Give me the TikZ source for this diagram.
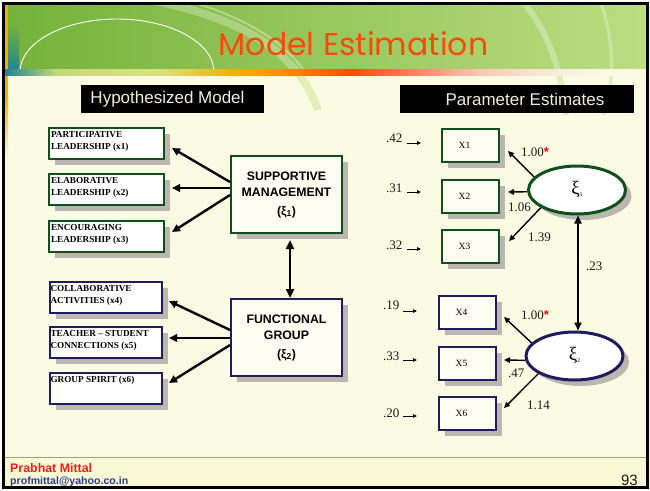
\documentclass[tikz,border=0pt]{standalone}
\usepackage{fontspec}
\setmainfont{Liberation Serif}
\setsansfont{Liberation Sans}
\newfontfamily\titlefont{Poppins}
\usetikzlibrary{arrows.meta,shapes.geometric,shadows}

\definecolor{cream}{HTML}{FBFBE3}
\definecolor{footcream}{HTML}{F9F9D6}
\definecolor{hdrdark}{HTML}{74B23A}
\definecolor{hdrlight}{HTML}{BCDD82}
\definecolor{tealc}{HTML}{1E8496}
\definecolor{goldc}{HTML}{F0B000}
\definecolor{orangec}{HTML}{F88A00}
\definecolor{redorange}{HTML}{FF4A06}
\definecolor{salmonc}{HTML}{FF8468}
\definecolor{pinkc}{HTML}{F9C8B4}
\definecolor{palec}{HTML}{F8EEDC}
\definecolor{yg}{HTML}{C4D878}
\definecolor{ygpale}{HTML}{DCE27A}
\definecolor{titlec}{HTML}{FF4A0A}
\definecolor{capfg}{HTML}{EFEFD6}
\definecolor{grnbd}{HTML}{0E4F1C}
\definecolor{navybd}{HTML}{1C1C5E}
\definecolor{shade}{HTML}{BDB6B0}
\definecolor{latfill}{HTML}{FDFDF2}
\definecolor{footline}{HTML}{9CA282}
\definecolor{mailblue}{HTML}{2B3A96}
\definecolor{namered}{HTML}{FF1A1A}
\definecolor{arcgreen}{HTML}{CFE69A}
\definecolor{ink}{HTML}{1A1A1A}

% colour rule under the title band
\pgfdeclarehorizontalshading{hdrrule}{100bp}{
  color(0bp)=(tealc); color(25bp)=(tealc); color(29bp)=(yg);
  color(37bp)=(ygpale); color(43bp)=(goldc); color(47bp)=(orangec);
  color(52bp)=(redorange); color(57bp)=(salmonc); color(62bp)=(pinkc);
  color(68bp)=(palec); color(72bp)=(cream); color(100bp)=(cream)}

% two-line caption of an indicator box, set from its top left corner
\newcommand\indlab[2]{\parbox[c][29pt][t]{111pt}{\raggedright\rule{0pt}{8.5pt}#1\\#2}}
\newcommand\indone[1]{\parbox[c][29pt][t]{111pt}{\raggedright\rule{0pt}{8.5pt}#1}}
\newcommand\xisym[1]{{\fontsize{19}{19}\selectfont ξ}\raisebox{-2pt}{\fontsize{6}{6}\selectfont #1}}
\newcommand\fixed{{\color{red}\sffamily\bfseries\fontsize{13}{13}\selectfont *}}

\begin{document}
\begin{tikzpicture}[x=1pt,y=-1pt,
  boxshadow/.style={drop shadow={shadow xshift=6pt,shadow yshift=-6pt,fill=shade,opacity=1}},
  indbox/.style={draw=#1,line width=2pt,fill=white,boxshadow,inner sep=0pt,
     minimum width=115pt,minimum height=31pt,
     font=\fontsize{9.2}{12}\selectfont\bfseries},
  latbox/.style={draw=#1,line width=2pt,fill=latfill,boxshadow,
     minimum width=111pt,minimum height=77pt,align=center,inner sep=0pt,
     font=\sffamily\bfseries\fontsize{12.3}{16.5}\selectfont},
  obsbox/.style={draw=#1,line width=2pt,fill=latfill,boxshadow,
     minimum width=57pt,minimum height=33pt,inner sep=0pt,
     font=\fontsize{9.5}{9.5}\selectfont},
  latent/.style={ellipse,draw=#1,line width=3pt,fill=white,boxshadow,
     minimum width=97pt,minimum height=48pt,inner sep=0pt},
  caption/.style={fill=black,text=capfg,inner sep=0pt,minimum height=28pt,
     font=\sffamily\fontsize{17}{17}\selectfont},
  est/.style={anchor=west,inner sep=0pt,text=ink,font=\fontsize{13}{13}\selectfont},
  bigarr/.style={line width=2.4pt,-{Triangle[length=8pt,width=7.5pt]}},
  bigdbl/.style={line width=2.6pt,{Triangle[length=9pt,width=8pt]}-{Triangle[length=9pt,width=8pt]}},
  estarr/.style={line width=1.4pt,-{Triangle[length=6pt,width=5.5pt]}},
  estdbl/.style={line width=1.8pt,{Triangle[length=8pt,width=7pt]}-{Triangle[length=8pt,width=7pt]}},
  errarr/.style={line width=0.8pt,-{Triangle[length=4pt,width=3.5pt]}}
]
\useasboundingbox (0,0) rectangle (650,490);

% slide background
\fill[white] (0,0) rectangle (650,490);
\fill[cream] (5,5) rectangle (647,487);
\fill[footcream] (5,458) rectangle (647,487);

% title band
\shade[left color=hdrdark,right color=hdrlight] (5,5) rectangle (647,72);
\shade[top color=hdrdark,bottom color=tealc] (8,25) rectangle (19,72);
\fill[goldc] (5,5) rectangle (8,95);
\shade[top color=goldc,bottom color=cream] (5,95) rectangle (8,160);

% faint sweeping arcs
\begin{scope}
  \clip (5,5) rectangle (647,72);
  \draw[white,opacity=0.28,line width=8pt] (150,0) .. controls (240,18) and (297,50) .. (318,110);
  \draw[white,opacity=0.35,line width=2pt] (185,0) .. controls (262,22) and (306,55) .. (324,110);
  \draw[white,opacity=0.3,line width=6pt] (522,0) .. controls (546,30) and (560,62) .. (566,115);
  \draw[white,opacity=0.3,line width=3pt] (600,0) .. controls (614,40) and (615,78) .. (604,115);
\end{scope}
\begin{scope}
  \clip (5,72) rectangle (647,118);
  \draw[arcgreen,opacity=0.55,line width=8pt] (150,0) .. controls (240,18) and (297,50) .. (318,110);
  \draw[arcgreen,opacity=0.55,line width=6pt] (522,0) .. controls (546,30) and (560,62) .. (566,115);
  \draw[arcgreen,opacity=0.55,line width=3pt] (600,0) .. controls (614,40) and (615,78) .. (604,115);
\end{scope}
\begin{scope}
  \clip (5,5) rectangle (647,72);
  \draw[white,line width=0.9pt] (20,72) arc[start angle=180,end angle=360,x radius=97,y radius=53];
\end{scope}
\shade[shading=hdrrule] (5,69) rectangle (647,75);

% footer rule and slide frame
\draw[footline,line width=1.5pt] (5,457.5) -- (647,457.5);
\draw[black,line width=3pt] (3.5,3.5) rectangle (647.5,487.5);

% title
\node[text=titlec,font=\titlefont\fontsize{31.5}{31.5}\selectfont,anchor=base] (title) at (353.5,55) {Model Estimation};

% panel captions
\node[caption,minimum width=183pt] (capl) at (172.5,99) {\hspace*{-10pt}Hypothesized Model};
\node[caption,minimum width=234pt] (capr) at (517,99) {\hspace*{16pt}Parameter Estimates};

% hypothesized model: indicators
\node[indbox=grnbd] (i1) at (106.5,143.5) {\indlab{PARTICIPATIVE}{LEADERSHIP (x1)}};
\node[indbox=grnbd] (i2) at (106.5,189.5) {\indlab{ELABORATIVE}{LEADERSHIP (x2)}};
\node[indbox=grnbd] (i3) at (106.5,236)   {\indlab{ENCOURAGING}{LEADERSHIP (x3)}};
\node[indbox=navybd,minimum width=112pt] (i4) at (106,297.5) {\indlab{COLLABORATIVE}{ACTIVITIES (x4)}};
\node[indbox=navybd,minimum width=112pt] (i5) at (106,342.5) {\indlab{TEACHER – STUDENT}{CONNECTIONS (x5)}};
\node[indbox=navybd,minimum width=112pt] (i6) at (106,388)   {\indone{GROUP SPIRIT (x6)}};

% hypothesized model: factors
\node[latbox=grnbd] (sm) at (286.5,194.5) {SUPPORTIVE\\MANAGEMENT\\[2pt](ξ\textsubscript{1})};
\node[latbox=navybd] (fg) at (286.5,337.5) {FUNCTIONAL\\GROUP\\[2pt](ξ\textsubscript{2})};

\draw[bigarr] ([yshift=12.5pt]sm.west) -- ([xshift=7pt,yshift=-4.5pt]i1.east);
\draw[bigarr] ([yshift=6.5pt]sm.west)  -- ([xshift=7pt,yshift=1.5pt]i2.east);
\draw[bigarr] ([yshift=-0.5pt]sm.west) -- ([xshift=7pt,yshift=4pt]i3.east);
\draw[bigarr] ([yshift=7.5pt]fg.west)  -- ([xshift=6pt,yshift=-3.5pt]i4.east);
\draw[bigarr] ([yshift=-0.5pt]fg.west) -- ([xshift=6pt,yshift=4.5pt]i5.east);
\draw[bigarr] ([yshift=-7.5pt]fg.west) -- ([xshift=6pt,yshift=5pt]i6.east);
\draw[bigdbl] ([xshift=3.5pt,yshift=-6pt]sm.south) -- ([xshift=3.5pt]fg.north);

% parameter estimates: observed variables
\node[obsbox=grnbd]  (x1) at (470.5,145.5) {\hspace*{-12pt}X1};
\node[obsbox=grnbd]  (x2) at (470.5,196)   {\hspace*{-12pt}X2};
\node[obsbox=grnbd]  (x3) at (470.5,246.5) {\hspace*{-12pt}X3};
\node[obsbox=navybd] (x4) at (467.5,312)   {\hspace*{-12pt}X4};
\node[obsbox=navybd] (x5) at (467.5,363)   {\hspace*{-12pt}X5};
\node[obsbox=navybd] (x6) at (467.5,413.5) {\hspace*{-12pt}X6};

% parameter estimates: latent factors
\node[latent=grnbd]  (xi1) at (577,190)   {\xisym{1}};
\node[latent=navybd] (xi2) at (574.5,356) {\xisym{2}};

\draw[estarr] (xi1.163) -- ([xshift=8pt,yshift=-5.5pt]x1.east);
\draw[estarr] (xi1.182) -- ([xshift=8pt,yshift=4pt]x2.east);
\draw[estarr] (xi1.206) -- ([xshift=9pt,yshift=5.5pt]x3.east);
\draw[estarr] (xi2.163) -- ([xshift=7pt,yshift=-5pt]x4.east);
\draw[estarr] (xi2.185) -- ([xshift=7pt,yshift=3pt]x5.east);
\draw[estarr] (xi2.206) -- ([xshift=7pt,yshift=5.5pt]x6.east);
\draw[estdbl] ([xshift=1pt]xi1.south) -- ([xshift=3.5pt]xi2.north);

% loadings and factor correlation
\node[est] (l1) at (521,152) {1.00\fixed};
\node[est] (l2) at (508,207) {1.06};
\node[est] (l3) at (528,237) {1.39};
\node[est] (l4) at (521,315) {1.00\fixed};
\node[est] (l5) at (508,373) {.47};
\node[est] (l6) at (527,405) {1.14};
\node[est] (r12) at (586,266) {.23};

% error variances
\node[est] (e1) at (386,138) {.42};
\node[est] (e2) at (386,188) {.31};
\node[est] (e3) at (386,245) {.32};
\node[est] (e4) at (383,305) {.19};
\node[est] (e5) at (383,356) {.33};
\node[est] (e6) at (383,413) {.20};
\coordinate (e1s) at (407,143); \coordinate (e1t) at (421,143);
\coordinate (e2s) at (407,192); \coordinate (e2t) at (421,192);
\coordinate (e3s) at (407,249); \coordinate (e3t) at (421,249);
\coordinate (e4s) at (403,311); \coordinate (e4t) at (417,311);
\coordinate (e5s) at (403,360); \coordinate (e5t) at (417,360);
\coordinate (e6s) at (403,416); \coordinate (e6t) at (417,416);
\foreach \k in {1,...,6} \draw[errarr] (e\k s) -- (e\k t);

% footer
\node[anchor=base west,inner sep=0pt,text=namered,font=\sffamily\bfseries\fontsize{12.4}{12.4}\selectfont] (author) at (10,472) {Prabhat Mittal};
\node[anchor=base west,inner sep=0pt,text=mailblue,font=\sffamily\bfseries\fontsize{10.6}{10.6}\selectfont] (mail) at (10,484) {profmittal@yahoo.co.in};
\node[anchor=base east,inner sep=0pt,text=ink,font=\sffamily\fontsize{15}{15}\selectfont] (page) at (638,485) {93};
\end{tikzpicture}
\end{document}
